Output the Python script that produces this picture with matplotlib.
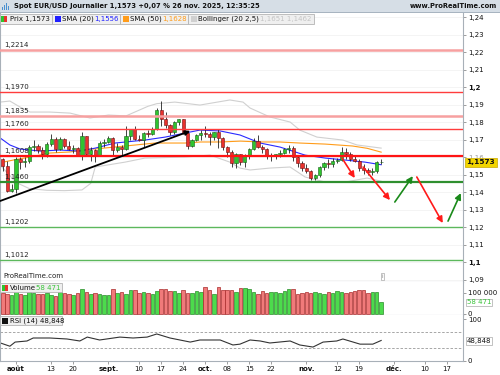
import matplotlib.pyplot as plt
import matplotlib.transforms as mtrans
from matplotlib.patches import Rectangle
import numpy as np

# --- daily candles, 29 Jul 2025 -> 26 Nov 2025 (trading-day index 0..86)
opens = [1.1588, 1.1546, 1.1405, 1.1415, 1.1587, 1.1572, 1.1575, 1.1660, 1.1665, 1.1642,
         1.1617, 1.1675, 1.1705, 1.1648, 1.1702, 1.1662, 1.1648, 1.1650, 1.1610, 1.1718,
         1.1620, 1.1640, 1.1605, 1.1683, 1.1685, 1.1710, 1.1640, 1.1660, 1.1645, 1.1718,
         1.1760, 1.1705, 1.1697, 1.1735, 1.1733, 1.1760, 1.1868, 1.1815, 1.1785, 1.1745,
         1.1800, 1.1815, 1.1737, 1.1665, 1.1700, 1.1725, 1.1735, 1.1730, 1.1715, 1.1742,
         1.1710, 1.1660, 1.1630, 1.1565, 1.1620, 1.1570, 1.1605, 1.1645, 1.1690, 1.1655,
         1.1645, 1.1605, 1.1610, 1.1615, 1.1625, 1.1645, 1.1650, 1.1600, 1.1565, 1.1535,
         1.1520, 1.1480, 1.1495, 1.1545, 1.1565, 1.1560, 1.1580, 1.1585, 1.1630, 1.1620,
         1.1590, 1.1580, 1.1540, 1.1525, 1.1512, 1.1520, 1.1570]
highs = [1.1595, 1.1575, 1.1448, 1.1598, 1.1599, 1.1598, 1.1670, 1.1699, 1.1676, 1.1655,
         1.1685, 1.1730, 1.1715, 1.1715, 1.1710, 1.1690, 1.1670, 1.1660, 1.1742, 1.1720,
         1.1660, 1.1645, 1.1690, 1.1705, 1.1720, 1.1715, 1.1680, 1.1670, 1.1780, 1.1760,
         1.1780, 1.1728, 1.1745, 1.1755, 1.1770, 1.1878, 1.1918, 1.1855, 1.1790, 1.1805,
         1.1820, 1.1818, 1.1745, 1.1705, 1.1730, 1.1755, 1.1780, 1.1745, 1.1745, 1.1760,
         1.1712, 1.1665, 1.1640, 1.1625, 1.1620, 1.1615, 1.1650, 1.1710, 1.1728, 1.1670,
         1.1650, 1.1625, 1.1620, 1.1640, 1.1650, 1.1670, 1.1665, 1.1610, 1.1580, 1.1560,
         1.1525, 1.1505, 1.1550, 1.1570, 1.1590, 1.1595, 1.1595, 1.1655, 1.1650, 1.1630,
         1.1610, 1.1590, 1.1560, 1.1540, 1.1535, 1.1580, 1.1590]
lows = [1.1520, 1.1401, 1.1400, 1.1392, 1.1532, 1.1545, 1.1565, 1.1635, 1.1625, 1.1590,
        1.1600, 1.1665, 1.1630, 1.1640, 1.1650, 1.1640, 1.1625, 1.1607, 1.1583, 1.1610,
        1.1575, 1.1573, 1.1605, 1.1655, 1.1680, 1.1608, 1.1630, 1.1610, 1.1640, 1.1700,
        1.1695, 1.1690, 1.1660, 1.1715, 1.1725, 1.1755, 1.1780, 1.1765, 1.1727, 1.1730,
        1.1785, 1.1730, 1.1645, 1.1655, 1.1690, 1.1700, 1.1715, 1.1670, 1.1695, 1.1650,
        1.1640, 1.1600, 1.1545, 1.1540, 1.1555, 1.1542, 1.1590, 1.1640, 1.1650, 1.1625,
        1.1590, 1.1578, 1.1590, 1.1600, 1.1615, 1.1625, 1.1580, 1.1545, 1.1520, 1.1510,
        1.1470, 1.1468, 1.1485, 1.1525, 1.1540, 1.1545, 1.1565, 1.1580, 1.1590, 1.1580,
        1.1570, 1.1520, 1.1505, 1.1495, 1.1500, 1.1510, 1.1560]
closes = opens[1:] + [1.1573]

volumes = [98, 95, 92, 118, 96, 90, 104, 101, 94, 97,
           100, 88, 84, 106, 98, 93, 92, 99, 121, 104,
           96, 101, 94, 88, 92, 120, 100, 103, 97, 112,
           114, 98, 103, 101, 96, 108, 120, 121, 108, 107,
           102, 112, 100, 101, 108, 106, 128, 112, 96, 128,
           113, 116, 112, 106, 125, 124, 120, 105, 96, 108,
           102, 104, 106, 100, 108, 118, 117, 97, 101, 104,
           100, 103, 101, 96, 104, 100, 108, 104, 102, 106,
           110, 112, 113, 100, 103, 105, 58.471]  # thousands

# indicator lines, sampled (trading-day index, value)
sma20_x = [-0.6, 1.6, 3.9, 6.2, 8.5, 13, 17.5, 21, 25.5, 32.3, 36.9, 41.4, 44.8, 49.4,
           53.9, 58.5, 63, 68.7, 73.3, 77.8, 82.3, 86]
sma20_y = [1.1709, 1.1669, 1.1646, 1.1640, 1.1634, 1.1640, 1.1634, 1.1651, 1.1680, 1.1697,
           1.1714, 1.1737, 1.1754, 1.1749, 1.1726, 1.1680, 1.1657, 1.1611, 1.1594, 1.1583,
           1.1571, 1.1556]
sma50_x = [0.5, 2.8, 6.2, 10.7, 15.3, 19.8, 21, 27.8, 34.6, 41.4, 45.0, 49.4, 54.0, 58.5,
           63.0, 67.5, 73.3, 79.5, 82.8, 86]
sma50_y = [1.1573, 1.1585, 1.1600, 1.1623, 1.1629, 1.1646, 1.1646, 1.1663, 1.1680, 1.1680,
           1.1686, 1.1686, 1.1691, 1.1686, 1.1686, 1.1680, 1.1674, 1.1663, 1.1650, 1.1628]
bb_up_x = [-0.6, 1.6, 3.9, 6.2, 10.7, 15.3, 19.8, 24, 28, 33, 35, 39.1, 44.8, 51.6, 54.6,
           56.2, 60.7, 65.3, 67.5, 71.4, 77.3, 80.5, 86]
bb_up_y = [1.1914, 1.1920, 1.1886, 1.1857, 1.1857, 1.1851, 1.1823, 1.1840, 1.1835, 1.1890,
           1.1905, 1.1914, 1.1897, 1.1926, 1.1914, 1.1880, 1.1829, 1.1800, 1.1754, 1.1714,
           1.1697, 1.1669, 1.1651]
bb_lo_x = [-0.6, 3, 6, 10, 14, 18, 20, 21, 27.8, 32.3, 41.4, 47.1, 51.6, 53.9, 56.2,
           60.7, 65.3, 68.7, 73.3, 77.8, 82.8, 86]
bb_lo_y = [1.1554, 1.1455, 1.1420, 1.1410, 1.1408, 1.1412, 1.1450, 1.1543, 1.1571, 1.1594,
           1.1600, 1.1611, 1.1571, 1.1537, 1.1526, 1.1537, 1.1543, 1.1486, 1.1457, 1.1457,
           1.1480, 1.1462]

rsi_x = [-0.6, 1.6, 2.8, 5.5, 6.9, 10.7, 14.6, 17.5, 19.2, 22, 26.6, 29.6, 32.8, 35, 38,
         42.6, 44.8, 49.4, 52.3, 53.9, 56.2, 58.5, 60.7, 65.3, 67.5, 70.5, 72.8, 75.9, 77.3,
         81.2, 84.1, 86]
rsi_y = [43, 35, 45, 47.6, 54.8, 54.8, 52.4, 47.6, 57, 50, 57, 54.8, 57, 64.5, 54.8,
         45, 50, 50, 38, 40, 50, 47.6, 42.8, 47.6, 38, 33, 45, 47.6, 52.4,
         40, 40, 48.848]

# support / resistance levels
res_levels = [1.2214, 1.1970, 1.1835, 1.1760, 1.1608]
sup_levels = [1.1460, 1.1202, 1.1012]

# x axis labels (trading-day index)
tick_pos = [3, 11, 16, 24, 31, 36, 41, 46, 51, 56, 61, 69, 76, 81, 89, 96, 101]
tick_lab = ["août", "13", "20", "sept.", "10", "17", "24", "oct.", "08", "15", "22",
            "nov.", "12", "19", "déc.", "10", "17"]

# drawn trend line and projection arrows (index, price)
trend = [(-0.6, 1.1349), (42.6, 1.1749)]
arrows = [((77.1, 1.1594), (80.0, 1.1480), "#ff1a1a"),
          ((81.9, 1.1543), (88.0, 1.1354), "#ff1a1a"),
          ((89.1, 1.1343), (93.2, 1.1491), "#1a8a1a"),
          ((94.1, 1.1486), (100.0, 1.1223), "#ff1a1a"),
          ((101.2, 1.1234), (104.1, 1.1394), "#1a8a1a")]

W, H = 500, 375
fs = 5.0
plt.rcParams["font.family"] = "DejaVu Sans"


def box(x0, y0, x1, y1):
    return [x0 / W, 1 - y1 / H, (x1 - x0) / W, (y1 - y0) / H]


def nudge(label, dy_px):
    shift = mtrans.ScaledTranslation(0, dy_px / 100, fig.dpi_scale_trans)
    label.set_transform(label.get_transform() + shift)


fig = plt.figure(figsize=(W / 100, H / 100), dpi=100)
ax = fig.add_axes(box(0, 13, 463, 282))
axv = fig.add_axes(box(0, 282, 463, 315), sharex=ax)
axr = fig.add_axes(box(0, 315, 463, 361), sharex=ax)

idx = np.arange(len(opens))
o, h, l, c = map(np.array, (opens, highs, lows, closes))
up = c >= o

# price panel
for lv in np.arange(1.09, 1.245, 0.01):
    ax.axhline(lv, color="#f3f3f3", lw=0.6, zorder=0)
ax.plot(bb_up_x, bb_up_y, color="#d0d0d0", lw=0.8, zorder=1)
ax.plot(bb_lo_x, bb_lo_y, color="#d0d0d0", lw=0.8, zorder=1)
ax.plot(sma50_x, sma50_y, color="#ff9c1a", lw=0.8, zorder=2)
ax.plot(sma20_x, sma20_y, color="#2a2aff", lw=0.8, zorder=2)

ax.vlines(idx, l, h, color="#222222", lw=0.6, zorder=3)
ax.bar(idx[up], (c - o)[up], bottom=o[up], width=0.72, color="#2fc42f",
       edgecolor="#175f17", lw=0.4, zorder=4)
ax.bar(idx[~up], (o - c)[~up], bottom=c[~up], width=0.72, color="#e8322e",
       edgecolor="#6e1010", lw=0.4, zorder=4)

res_style = [("#f7a0a0", 1.8), ("#ff3c3c", 1.0), ("#f7a0a0", 1.8), ("#ff3c3c", 1.0),
             ("#ff1414", 1.6)]
for lv, (col, lw) in zip(res_levels, res_style):
    ax.axhline(lv, color=col, lw=lw, zorder=5)
    ax.text(0.4, lv + 0.0011, f"{lv:.4f}".replace(".", ","), fontsize=fs,
            color="#222222", va="bottom", ha="left", zorder=6)
sup_style = [("#2f8f2f", 1.6), ("#5cb85c", 1.0), ("#5cb85c", 1.0)]
for lv, (col, lw) in zip(sup_levels, sup_style):
    ax.axhline(lv, color=col, lw=lw, zorder=5)
    ax.text(0.4, lv + 0.0011, f"{lv:.4f}".replace(".", ","), fontsize=fs,
            color="#222222", va="bottom", ha="left", zorder=6)

ax.annotate("", xy=trend[1], xytext=trend[0],
            arrowprops=dict(arrowstyle="-|>", color="black", lw=1.3,
                            mutation_scale=7, shrinkA=0, shrinkB=0), zorder=7)
for start, end, col in arrows:
    ax.annotate("", xy=end, xytext=start,
                arrowprops=dict(arrowstyle="-|>", color=col, lw=1.2,
                                mutation_scale=9, shrinkA=0, shrinkB=0), zorder=7)

ax.set_xlim(-0.64, 104.6)
ax.set_ylim(1.0886, 1.2423)
ax.yaxis.tick_right()
yt = np.round(np.arange(1.09, 1.245, 0.01), 2)
ax.set_yticks(yt)
ax.set_yticklabels([f"{v:g}".replace(".", ",") for v in yt])
for t, v in zip(ax.get_yticklabels(), yt):
    if v in (1.1, 1.2):
        t.set_fontweight("bold")
    if v == 1.16:
        t.set_color("#999999")
        nudge(t, 2.5)  # mostly hidden behind the last-price tag
ax.text(0.2, 1.0905, "ProRealTime.com", fontsize=fs, color="#222222", va="bottom")
ax.text(86.3, 1.0905, "i", fontsize=4.2, color="#888888", va="bottom", ha="center",
        bbox=dict(boxstyle="square,pad=0.15", fc="white", ec="#aaaaaa", lw=0.5))

# volume panel
vol = np.array(volumes) * 1000
axv.bar(idx[up], vol[up], width=0.78, color="#4cdb4c", edgecolor="#2a8c2a", lw=0.5)
axv.bar(idx[~up], vol[~up], width=0.78, color="#f07a7a", edgecolor="#a82a2a", lw=0.5)
axv.set_ylim(-4760, 152000)
axv.yaxis.tick_right()
axv.set_yticks([0, 100000])
axv.set_yticklabels(["0", "100 000"])
nudge(axv.get_yticklabels()[0], 3.5)

# RSI panel
axr.axhline(70, color="#999999", lw=0.6, ls=(0, (3, 2)))
axr.axhline(30, color="#999999", lw=0.6, ls=(0, (3, 2)))
axr.plot(rsi_x, rsi_y, color="#333333", lw=0.8)
axr.set_ylim(-0.6, 110.2)
axr.yaxis.tick_right()
axr.set_yticks([0, 100])
axr.set_yticklabels(["0", "100"])
nudge(axr.get_yticklabels()[1], -1.5)

axr.set_xticks(tick_pos)
axr.set_xticklabels(tick_lab)
for t, lab in zip(axr.get_xticklabels(), tick_lab):
    if not lab.isdigit():
        t.set_fontweight("bold")

for a in (ax, axv, axr):
    a.tick_params(axis="y", labelsize=fs, length=2, width=0.5, color="#777777",
                  pad=1.5, labelcolor="#111111")
    a.tick_params(axis="x", labelsize=fs, length=2, width=0.5, color="#777777",
                  pad=1.5, labelcolor="#111111")
    for s in a.spines.values():
        s.set_color("#a8b0b8")
        s.set_linewidth(0.8)
    a.spines["top"].set_visible(False)
for a in (ax, axv):
    a.tick_params(axis="x", bottom=False, labelbottom=False)
for t, v in zip(ax.get_yticklabels(), yt):
    if v == 1.16:
        t.set_color("#999999")

# overlay for header and legend boxes (pixel coordinates)
ov = fig.add_axes([0, 0, 1, 1], zorder=20)
ov.set_xlim(0, W)
ov.set_ylim(H, 0)
ov.axis("off")
ov.patch.set_alpha(0)

ov.add_patch(Rectangle((0, 0), W, 12.5, fc="#d6dee6", ec="none"))
ov.add_patch(Rectangle((0, 12), W, 0.8, fc="#a8b4c0", ec="none"))
for k, hh in enumerate([3, 5, 7, 4]):
    ov.add_patch(Rectangle((2 + k * 2, 10 - hh), 1.2, hh, fc="#4a90d0", ec="none"))
ov.text(14, 6.3, "Spot EUR/USD Journalier 1,1573 +0,07 % 26 nov. 2025, 12:35:25",
        fontsize=4.9, fontweight="bold", va="center", color="#111111")
ov.text(497, 6.3, "www.ProRealTime.com", fontsize=4.9, fontweight="bold", va="center",
        ha="right", color="#111111")


def legend_box(x0, x1, y0, y1):
    ov.add_patch(Rectangle((x0, y0), x1 - x0, y1 - y0, fc="#efefef", ec="#b4b4b4", lw=0.6))


def two_tone(x, y, sz=6):
    ov.add_patch(Rectangle((x, y), sz / 2, sz, fc="#2fc42f", ec="none"))
    ov.add_patch(Rectangle((x + sz / 2, y), sz / 2, sz, fc="#e8322e", ec="none"))


yc = 18.5
legend_box(0, 52, 13.5, 23.5)
two_tone(1, 15.5, 6)
ov.text(9.5, yc, "Prix 1,1573", fontsize=fs, va="center", color="#111111")
legend_box(52, 120, 13.5, 23.5)
ov.add_patch(Rectangle((54.5, 15.5), 6, 6, fc="#1f1fff", ec="none"))
ov.text(62.5, yc, "SMA (20)", fontsize=fs, va="center", color="#111111")
ov.text(94, yc, "1,1556", fontsize=fs, va="center", color="#1f1fff")
legend_box(120, 188, 13.5, 23.5)
ov.add_patch(Rectangle((122.5, 15.5), 6, 6, fc="#ff9c1a", ec="none"))
ov.text(130.5, yc, "SMA (50)", fontsize=fs, va="center", color="#111111")
ov.text(162, yc, "1,1628", fontsize=fs, va="center", color="#ff9c1a")
legend_box(188, 314, 13.5, 23.5)
ov.add_patch(Rectangle((190.5, 15.5), 6, 6, fc="#d0d0d0", ec="none"))
ov.text(198.5, yc, "Bollinger (20 2,5)", fontsize=fs, va="center", color="#111111")
ov.text(260, yc, "1,1651 1,1462", fontsize=fs, va="center", color="#c4c4c4")

legend_box(0, 62, 283, 292)
two_tone(1.5, 284.5, 6)
ov.text(9.5, 287.6, "Volume", fontsize=fs, va="center", color="#111111")
ov.text(36, 287.6, "58 471", fontsize=fs, va="center", color="#3cc43c")
legend_box(0, 62, 316, 325)
ov.add_patch(Rectangle((1.5, 317.5), 6, 6, fc="#111111", ec="none"))
ov.text(9.5, 320.6, "RSI (14) 48,848", fontsize=fs, va="center", color="#111111")

ov.text(466.5, 162.2, "1,1573", fontsize=5.3, fontweight="bold", va="center",
        color="#111111",
        bbox=dict(boxstyle="square,pad=0.2", fc="#f2d500", ec="#c8a800", lw=0.5))
ov.text(467, 302.5, "58 471", fontsize=fs, va="center", color="#3cc43c",
        bbox=dict(boxstyle="square,pad=0.12", fc="white", ec="#aaaaaa", lw=0.5))
ov.text(467, 341, "48,848", fontsize=fs, va="center", color="#111111",
        bbox=dict(boxstyle="square,pad=0.12", fc="white", ec="#aaaaaa", lw=0.5))

fig.savefig("out.png", dpi=100)
